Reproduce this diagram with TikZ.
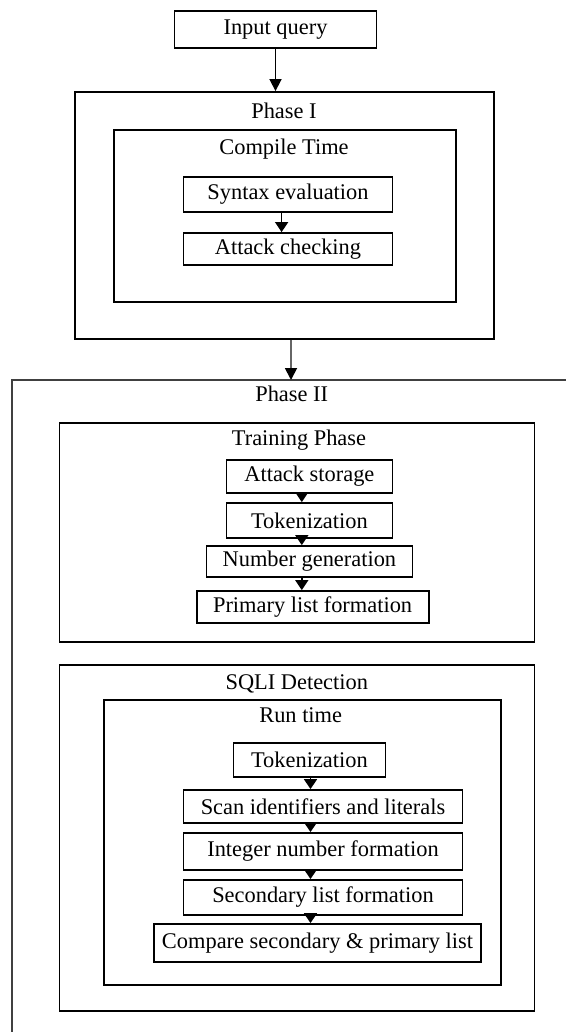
\documentclass[tikz,border=0pt]{standalone}
\usepackage{fontspec}
\setmainfont{Liberation Serif}
\usetikzlibrary{arrows.meta,positioning}

\tikzset{
  stepbox/.style={draw,line width=.9pt,inner sep=0pt,anchor=center,font=\fontsize{11.2}{13}\selectfont},
  frame/.style={draw,line width=.9pt,inner sep=0pt,anchor=center},
  title/.style={anchor=base,inner sep=0pt,font=\fontsize{11.2}{13}\selectfont},
  flow/.style={line width=.8pt,-{Triangle[length=5pt,width=6.5pt]}},
}

\begin{document}
\begin{tikzpicture}[x=.5pt,y=-.5pt]
\useasboundingbox (0,0) rectangle (566,1032);
% top
\node[stepbox,minimum width=101pt,minimum height=18.5pt] (inq) at (275.5,29.5) {Input query};
\node[frame,minimum width=209.5pt,minimum height=123.5pt] (p1) at (284.5,215.5) {};
\node[title] (p1t) at (284,119) {Phase I};
\node[frame,minimum width=171pt,minimum height=86pt] (ct) at (284.7,216) {};
\node[title] (ctt) at (284,155) {Compile Time};
\node[stepbox,minimum width=104.5pt,minimum height=17.5pt] (syn) at (288,194.5) {Syntax evaluation};
\node[stepbox,minimum width=104.5pt,minimum height=16pt] (atk) at (288,249) {Attack checking};
\coordinate (c1) at (281.6,0);
\draw[flow,-{Triangle[length=6pt,width=6pt]}] (inq.south) -- (inq.south |- p1.north);
\draw[flow] (syn.south -| c1) -- (atk.north -| c1);
% phase II
\coordinate (p2) at (291,380);
\draw[line width=1pt,black!75] (566,380) -- (12,380) -- (12,1032);
\draw[line width=.9pt,black!60,-{Triangle[length=6pt,width=6pt,color=black]}] (p1.south -| p2) -- (p2);
\node[title] (p2t) at (291.7,401.5) {Phase II};
% training
\node[frame,minimum width=237.5pt,minimum height=109.5pt] (tp) at (297,532.5) {};
\node[title] (tpt) at (299,445) {Training Phase};
\node[stepbox,minimum width=83pt,minimum height=16.5pt] (ast) at (309.4,476.5) {Attack storage};
\node[stepbox,minimum width=83pt,minimum height=17.5pt] (tok1) at (309.4,520.5) {Tokenization};
\node[stepbox,minimum width=103pt,minimum height=15.5pt] (num) at (309.4,561.5) {Number generation};
\node[stepbox,minimum width=116pt,minimum height=16pt] (pri) at (312.6,607) {Primary list formation};
\coordinate (c2) at (301.8,0);
\draw[flow] (ast.south -| c2) -- (tok1.north -| c2);
\draw[flow] (tok1.south -| c2) -- (num.north -| c2);
\draw[flow] (num.south -| c2) -- (pri.north -| c2);
% detection
\node[frame,minimum width=237.5pt,minimum height=173pt] (sd) at (297,838) {};
\node[title] (sdt) at (296.8,689) {SQLI Detection};
\node[frame,minimum width=198.5pt,minimum height=142.5pt] (rt) at (302.7,842.5) {};
\node[title] (rtt) at (300.7,722) {Run time};
\node[stepbox,minimum width=76pt,minimum height=17pt] (tok2) at (309.4,760) {Tokenization};
\node[stepbox,minimum width=139.5pt,minimum height=16.5pt] (scan) at (323,806.5) {Scan identifiers and literals};
\node[stepbox,minimum width=139.5pt,minimum height=18.5pt] (intg) at (323,851.5) {Integer number formation};
\node[stepbox,minimum width=139.5pt,minimum height=17.5pt] (sec) at (323,897.5) {Secondary list formation};
\node[stepbox,minimum width=163.5pt,minimum height=19pt] (cmp) at (317.5,943) {Compare secondary \& primary list};
\coordinate (c3) at (310.5,0);
\draw[flow] (tok2.south -| c3) -- (scan.north -| c3);
\draw[flow] (scan.south -| c3) -- (intg.north -| c3);
\draw[flow] (intg.south -| c3) -- (sec.north -| c3);
\draw[flow] (sec.south -| c3) -- (cmp.north -| c3);
\end{tikzpicture}
\end{document}
